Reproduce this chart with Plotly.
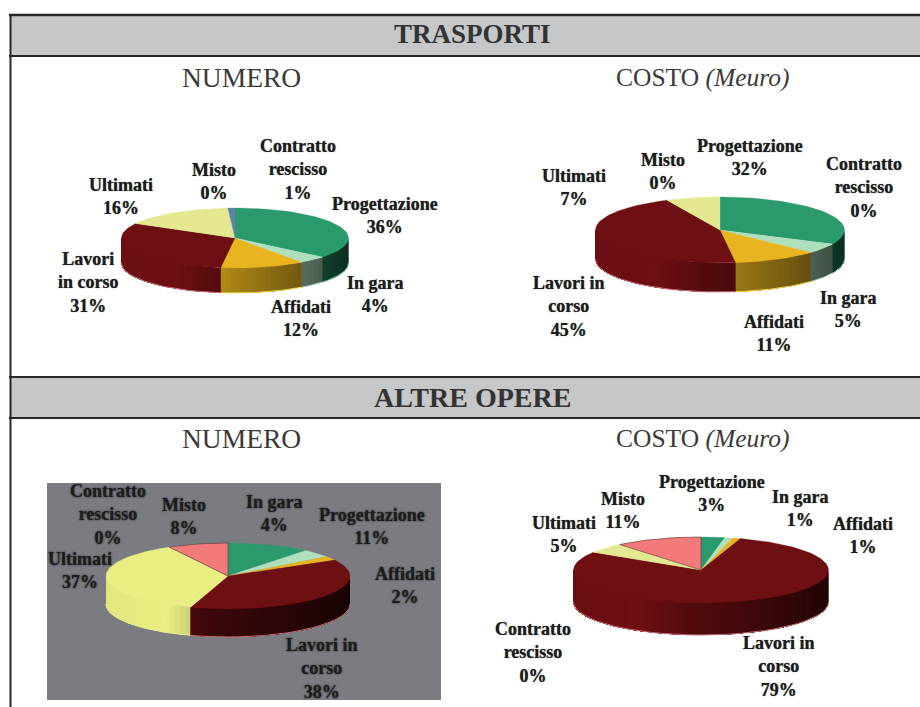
import math
import plotly.graph_objects as go

# ---- data ----
CATEGORIES = ["Progettazione", "In gara", "Affidati", "Lavori in corso",
              "Ultimati", "Contratto rescisso", "Misto"]
TRASPORTI_NUMERO = [36, 4, 12, 31, 16, 1, 0]
TRASPORTI_COSTO = [32, 5, 11, 45, 7, 0, 0]
ALTRE_NUMERO = [11, 4, 2, 38, 37, 0, 8]
ALTRE_COSTO = [3, 1, 1, 79, 5, 0, 11]
SECTION_TITLES = ["TRASPORTI", "ALTRE OPERE"]
COLUMN_TITLES = ["NUMERO", "COSTO <i>(Meuro)</i>"]

# ---- styles and layout ----
COLORS = ["#2a9a6c", "#b0dfbe", "#e8b520", "#6e0f12", "#e4e890", "#5f83a8", "#f27a7a"]
RIMS = ["#7fcfa8", "#b0dfbe", "#f5d84a", "#c9707a", "#e4e890", "#5f83a8", "#f27a7a"]
TEXT = "#262626"
BAND = "#c6c7c9"
LINE = "#262626"
FONT = "Liberation Serif"

L_BREAK_A = {"Lavori in corso": "Lavori<br>in corso", "Contratto rescisso": "Contratto<br>rescisso"}
L_BREAK_B = {"Lavori in corso": "Lavori in<br>corso", "Contratto rescisso": "Contratto<br>rescisso"}

PIES = [
    dict(values=TRASPORTI_NUMERO, cx=235, cy=238, rx=113.5, ry=30, depth=25, breaks=L_BREAK_A,
         dark=1.0, yellow=COLORS[4],
         labels=[(385, 215), (375, 294), (301, 318), (88, 282), (121, 196), (298, 169), (214, 181)]),
    dict(values=TRASPORTI_COSTO, cx=720, cy=230, rx=124.5, ry=33, depth=29, breaks=L_BREAK_B,
         dark=1.0, yellow=COLORS[4],
         labels=[(750, 157), (848, 309), (774, 333), (569, 306), (574, 187), (864, 187), (663, 171)]),
    dict(values=ALTRE_NUMERO, cx=228, cy=576, rx=122, ry=33, depth=28, breaks=L_BREAK_B,
         dark=0.7, yellow="#e9ee82",
         labels=[(372, 526), (274, 513), (405, 585), (322, 668), (80, 570), (108, 514), (184, 516)]),
    dict(values=ALTRE_COSTO, cx=701, cy=570, rx=127.5, ry=33, depth=32, breaks=L_BREAK_B,
         dark=1.0, yellow=COLORS[4],
         labels=[(712, 493), (800, 508), (863, 535), (779, 666), (564, 534), (533, 652), (623, 510)]),
]


def hex_rgb(c):
    return tuple(int(c[i:i + 2], 16) for i in (1, 3, 5))


def shade(color, f):
    r, g, b = hex_rgb(color)
    return f"rgb({r * f:.0f},{g * f:.0f},{b * f:.0f})"


def light(frac):
    pts = [(0.0, 0.97), (0.25, 1.0), (0.45, 0.75), (0.85, 0.45), (1.0, 0.3)]
    for (a, u), (b, v) in zip(pts, pts[1:]):
        if frac <= b:
            return u + (v - u) * (frac - a) / (b - a)
    return 0.3


def arc(p, a0, a1, n, dy=0.0):
    xs, ys = [], []
    for i in range(n + 1):
        t = math.radians(a0 + (a1 - a0) * i / n)
        xs.append(p["cx"] + p["rx"] * math.sin(t))
        ys.append(p["cy"] - p["ry"] * math.cos(t) + dy)
    return xs, ys


fig = go.Figure()


def poly(xs, ys, fill, lw=0.0, lc=None):
    fig.add_trace(go.Scatter(
        x=xs, y=ys, mode="lines", fill="toself", fillcolor=fill,
        line=dict(color=lc or fill, width=lw), hoverinfo="skip", showlegend=False))


for p in PIES:
    total = sum(p["values"])
    cols = list(COLORS)
    cols[4] = p["yellow"]
    acc = 0.0
    spans = []
    for v in p["values"]:
        a0 = acc / total * 360
        acc += v
        spans.append((a0, acc / total * 360))
    # side wall, painted as overlapping strips so the shading has no seams;
    # it runs right-to-left (angle rising), each strip covering what remains of its slice
    for k, (a0, a1) in enumerate(spans):
        lo, hi = max(a0, 90), min(a1, 270)
        if hi <= lo:
            continue
        n = max(1, int((hi - lo) / 2.5))
        for i in range(n):
            s0 = lo + (hi - lo) * i / n
            s1 = lo + (hi - lo) * (i + 1) / n
            m = max(2, int((hi - s0) / 2))
            tx, ty = arc(p, s0, hi, m)
            bx, by = arc(p, hi, s0, m, p["depth"])
            mid = math.radians((s0 + s1) / 2)
            frac = 0.5 + 0.5 * math.sin(mid)
            f = light(frac) * (p["dark"] if k == 3 else 1.0)
            poly(tx + bx, ty + by, shade(cols[k], f))
        rx_, ry_ = arc(p, lo, hi, 30, p["depth"])
        fig.add_trace(go.Scatter(x=rx_, y=ry_, mode="lines",
                                 line=dict(color=RIMS[k], width=1),
                                 hoverinfo="skip", showlegend=False))
    # top face
    for k, (a0, a1) in enumerate(spans):
        if a1 <= a0:
            continue
        xs, ys = arc(p, a0, a1, max(2, int((a1 - a0) / 2)))
        outline = "#6b4040" if k == 6 else cols[k]
        poly([p["cx"]] + xs + [p["cx"]], [p["cy"]] + ys + [p["cy"]], cols[k],
             0.7 if k == 6 else 0.3, outline)

annotations = []


def text(x, y, s, size, bold=False, color=TEXT, shadow=None):
    f = dict(family=FONT, size=size, color=color)
    if shadow:
        f["shadow"] = shadow
    annotations.append(dict(
        x=x, y=y, xref="x", yref="y", text=f"<b>{s}</b>" if bold else s, showarrow=False,
        xanchor="center", yanchor="middle", align="center", font=f))


for s, y, size in zip(SECTION_TITLES, (34, 397), (27, 28)):
    text(472, y, s, size, bold=True, color="#333333")
for y in (77, 438):
    text(241, y, COLUMN_TITLES[0], 27.5, color="#3a3a3a")
    text(703, y, COLUMN_TITLES[1], 25.5, color="#3a3a3a")

for j, p in enumerate(PIES):
    for name, v, (x, y) in zip(CATEGORIES, p["values"], p["labels"]):
        label = p["breaks"].get(name, name)
        text(x, y, f"{label}<br>{v}%", 18, bold=True, color="#1c1c1c",
             shadow="0 0 2px #222" if j == 2 else "0 0 1px #555")

shapes = [
    dict(type="rect", layer="below", x0=10, x1=920, y0=16, y1=55, fillcolor=BAND, line_width=0),
    dict(type="rect", layer="below", x0=10, x1=920, y0=377, y1=417, fillcolor=BAND, line_width=0),
    dict(type="rect", layer="below", x0=47, x1=441, y0=483, y1=700, fillcolor="#7a7c82", line_width=0),
]
for y, w in ((15, 2.5), (56, 2), (377, 2), (418, 2)):
    shapes.append(dict(type="line", layer="above", x0=9, x1=920, y0=y, y1=y,
                       line=dict(color=LINE, width=w)))
shapes.append(dict(type="line", layer="above", x0=10.5, x1=10.5, y0=15, y1=707,
                   line=dict(color=LINE, width=2)))

fig.update_layout(
    width=920, height=707, autosize=False,
    margin=dict(l=0, r=0, t=0, b=0),
    paper_bgcolor="white", plot_bgcolor="white",
    xaxis=dict(range=[0, 920], visible=False, fixedrange=True),
    yaxis=dict(range=[707, 0], visible=False, fixedrange=True),
    shapes=shapes, annotations=annotations, showlegend=False,
)
fig.write_html("out.html", config=dict(displayModeBar=False),
               post_script="document.body.style.margin='0';document.body.style.overflow='hidden';")
